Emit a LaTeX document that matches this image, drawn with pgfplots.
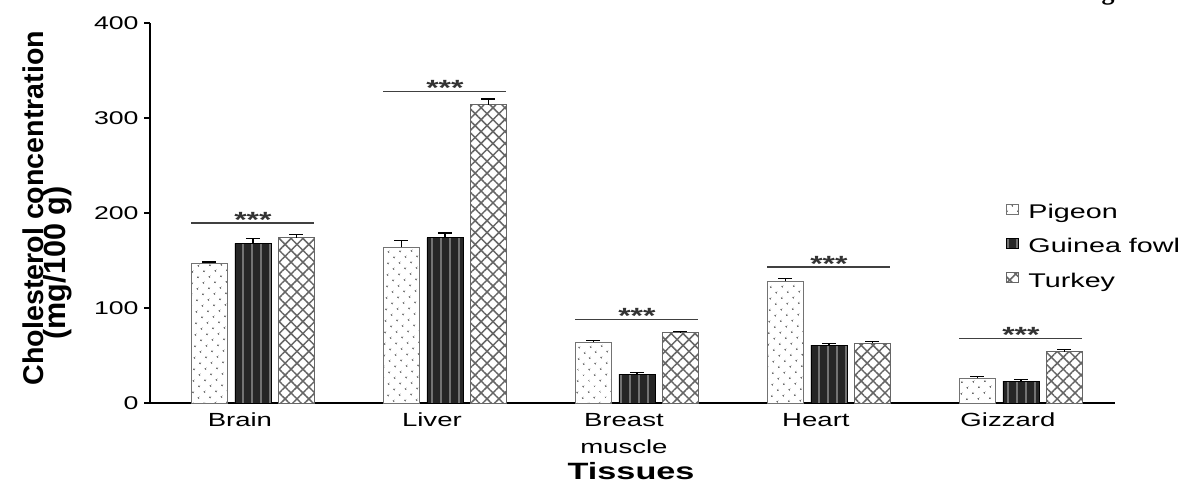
\documentclass[border=0pt]{standalone}
\usepackage{pgfplots}
\pgfplotsset{compat=1.18}
\usepackage{pgfplotstable}
\usetikzlibrary{patterns.meta}
\usepackage{fontspec}
\setmainfont{Liberation Sans}[FakeStretch=1.45]
\newfontfamily\plainsans{Liberation Sans}
\newfontfamily\serifbold{Liberation Serif}

\pgfplotstableread{
x pig pige gui guie tur ture
0 147 1.5 168 5 174 3
1 164 7 174 5 314 6
2 64 1.5 30.5 1.5 74 1.5
3 128 3 61 1.5 63 1.5
4 26 1.5 23 1.5 54 2
}\datatable

\tikzset{sigline/.style={black!75, line width=0.8pt},
  stars/.style={midway, anchor=base, yshift=-2.25pt, font=\bfseries\fontsize{11}{11}\selectfont, black!80}}

\begin{document}
\begin{tikzpicture}
\useasboundingbox (0,0) rectangle (593.5pt,241pt);
\begin{axis}[
  at={(75pt,39.5pt)}, anchor=south west,
  scale only axis, width=482.5pt, height=190pt,
  ybar=3.75pt, bar width=18pt,
  xmin=-0.536, xmax=4.49, ymin=0, ymax=400,
  axis x line*=bottom, axis y line*=left,
  axis line style={black, line width=1pt, -},
  xtick=data,
  xticklabels={Brain, Liver, {Breast\\muscle}, Heart, Gizzard},
  xtick style={draw=none},
  xticklabel style={align=center, font=\fontsize{9.5}{13.5}\selectfont, xshift=-6.5pt, yshift=1.5pt},
  ytick={0,100,200,300,400},
  ytick style={black, line width=0.8pt},
  tick align=outside, major tick length=3pt,
  yticklabel style={font=\fontsize{9.2}{10}\selectfont, xshift=0.8pt},
  /pgf/number format/assume math mode=true,
  clip=false,
  legend style={at={(0.88,0.545)}, anchor=north west, draw=none, fill=none,
    font=\fontsize{9.9}{12}\selectfont, row sep=4.5pt, legend cell align=left},
  legend image code/.code={\draw[#1] (0pt,-0.5pt) rectangle (6pt,4.5pt); \path (9pt,0pt);},
  error bars/error bar style={black, line width=0.6pt},
  error bars/error mark options={rotate=90, mark size=3.5pt, line width=0.6pt, black},
]
\addplot[draw=black!55, fill=white, postaction={pattern={Dots[distance=4pt, radius=0.55pt, angle=45]}, pattern color=black!60},
  error bars/.cd, y dir=plus, y explicit]
  table[x=x, y=pig, y error=pige] {\datatable};
\addplot[draw=black, fill=black!85, postaction={pattern={Lines[angle=90, distance=4.5pt, line width=0.8pt]}, pattern color=black!55},
  error bars/.cd, y dir=plus, y explicit]
  table[x=x, y=gui, y error=guie] {\datatable};
\addplot[draw=black!60, fill=white, postaction={pattern={Hatch[angle=45, distance=4.2pt, line width=0.75pt]}, pattern color=black!60},
  error bars/.cd, y dir=plus, y explicit]
  table[x=x, y=tur, y error=ture] {\datatable};
\legend{Pigeon, Guinea fowl, Turkey}

\draw[sigline] (axis cs:-0.32,189.5) -- (axis cs:0.32,189.5) node[stars] {***};
\draw[sigline] (axis cs:0.68,328) -- (axis cs:1.32,328) node[stars] {***};
\draw[sigline] (axis cs:1.68,88) -- (axis cs:2.32,88) node[stars] {***};
\draw[sigline] (axis cs:2.68,143) -- (axis cs:3.32,143) node[stars] {***};
\draw[sigline] (axis cs:3.68,68) -- (axis cs:4.32,68) node[stars] {***};

\node[anchor=base, font=\bfseries\fontsize{11.8}{12}\selectfont] at (rel axis cs:0.4985,-0.2) {Tissues};
\end{axis}
\node[rotate=90, anchor=center, inner sep=0pt, font=\fontsize{14.3}{16}\selectfont\plainsans\bfseries] at (16.75pt,137pt) {Cholesterol concentration};
\node[rotate=90, anchor=center, inner sep=0pt, font=\fontsize{15.3}{16}\selectfont\plainsans\bfseries] at (29pt,109.5pt) {(mg/100 g)};
\node[anchor=base, font=\serifbold\bfseries\fontsize{13}{13}\selectfont] at (554pt,241.3pt) {g};
\end{tikzpicture}
\end{document}
